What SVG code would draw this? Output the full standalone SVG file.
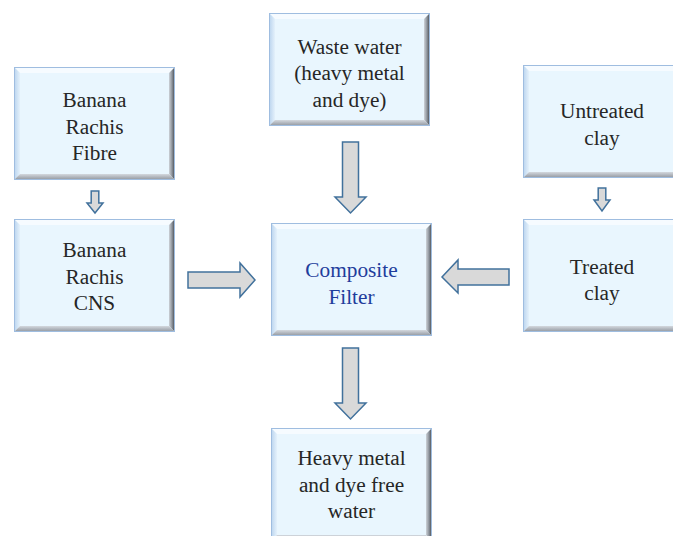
<svg xmlns="http://www.w3.org/2000/svg" xmlns:xlink="http://www.w3.org/1999/xlink" width="673" height="536" viewBox="0 0 673 536">
<defs>
<linearGradient id="gR" x1="0" y1="0" x2="1" y2="0">
<stop offset="0" stop-color="#cdd2d8"/><stop offset="0.5" stop-color="#8d939b"/><stop offset="1" stop-color="#3c4148"/>
</linearGradient>
<linearGradient id="gB" x1="0" y1="0" x2="0" y2="1">
<stop offset="0" stop-color="#d3d8de"/><stop offset="1" stop-color="#8e949c"/>
</linearGradient>
<linearGradient id="gL" x1="0" y1="0" x2="1" y2="0">
<stop offset="0" stop-color="#b9d3ee"/><stop offset="1" stop-color="#e4f1fb"/>
</linearGradient>
<g id="box">
<rect x="0" y="0" width="161" height="113" fill="#e9f6fe"/>
<polygon points="0,0 161,0 155,6 6,6" fill="#f6fbff"/>
<polygon points="0,0 6,6 6,107 0,113" fill="url(#gL)"/>
<polygon points="161,0 161,113 155,107 155,6" fill="url(#gR)"/>
<polygon points="0,113 161,113 155,107 6,107" fill="url(#gB)"/>
<rect x="0.5" y="0.5" width="160" height="112" fill="none" stroke="#9fbde0" stroke-width="1"/>
</g>
</defs>
<style>
text{font-family:"Liberation Serif","Times New Roman",serif;font-size:21.3px;fill:#262626;text-anchor:middle}
.blue{fill:#1f3d9c}
.arr{fill:#d9d9d9;stroke:#41719c;stroke-width:1.5;stroke-linejoin:miter}
</style>
<rect width="673" height="536" fill="#ffffff"/>
<g id="n-fibre">
<use xlink:href="#box" href="#box" x="14" y="67"/>
<text x="94.5" y="107">Banana</text>
<text x="94.5" y="134">Rachis</text>
<text x="94.5" y="160">Fibre</text>
</g>
<g id="n-cns">
<use xlink:href="#box" href="#box" x="14" y="219"/>
<text x="94.5" y="257">Banana</text>
<text x="94.5" y="284">Rachis</text>
<text x="94.5" y="310">CNS</text>
</g>
<g id="n-waste">
<use xlink:href="#box" href="#box" x="269" y="13"/>
<text x="349.5" y="54">Waste water</text>
<text x="349.5" y="80">(heavy metal</text>
<text x="349.5" y="107">and dye)</text>
</g>
<g id="n-filter">
<use xlink:href="#box" href="#box" x="271" y="223"/>
<text class="blue" x="351.5" y="277">Composite</text>
<text class="blue" x="351.5" y="304">Filter</text>
</g>
<g id="n-untreated">
<use xlink:href="#box" href="#box" x="523" y="65"/>
<text x="602" y="118">Untreated</text>
<text x="602" y="145">clay</text>
</g>
<g id="n-treated">
<use xlink:href="#box" href="#box" x="523" y="219"/>
<text x="602" y="274">Treated</text>
<text x="602" y="300">clay</text>
</g>
<g id="n-free">
<use xlink:href="#box" href="#box" x="271" y="428"/>
<text x="351.5" y="465">Heavy metal</text>
<text x="351.5" y="492">and dye free</text>
<text x="351.5" y="518">water</text>
</g>
<g id="connectors">
<path class="arr" d="M91.2,191 H98.8 V203 H103 L95,213 L87,203 H91.2 Z"/>
<path class="arr" d="M598.2,188 H605.8 V200 H610 L602,211 L594,200 H598.2 Z"/>
<path class="arr" d="M342.5,142 H358.5 V197 H366 L350.5,213 L335,197 H342.5 Z"/>
<path class="arr" d="M342.5,348 H358.5 V403 H366 L350.5,419 L335,403 H342.5 Z"/>
<path class="arr" d="M188,272 H240 V263 L255,280 L240,297 V288 H188 Z"/>
<path class="arr" d="M509,269 H458 V260 L442,277 L458,293 V285 H509 Z"/>
</g>
</svg>
